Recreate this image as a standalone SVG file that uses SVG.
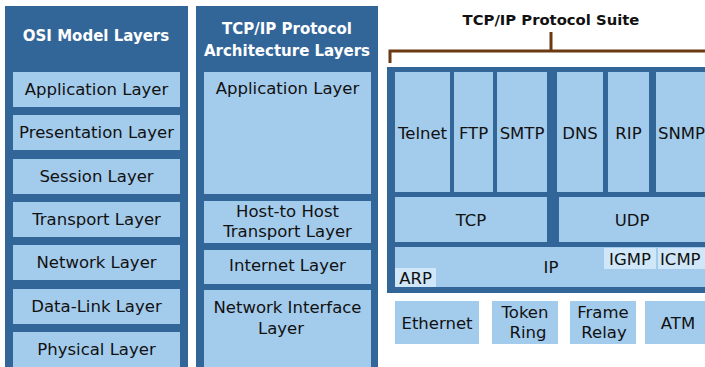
<svg xmlns="http://www.w3.org/2000/svg" width="705" height="367" viewBox="0 0 705 367">
<style>
.panel{fill:#326699}
.box{fill:#a3cbec}
.hl{fill:#cfe7f8}
.t{font-family:"DejaVu Sans","Liberation Sans",sans-serif;font-size:16.5px;fill:#111;text-anchor:middle}
.s{text-anchor:start}
.h{font-family:"DejaVu Sans","Liberation Sans",sans-serif;font-size:15px;font-weight:bold;fill:#fff;text-anchor:middle}
.br{fill:none;stroke:#6b3a12;stroke-width:3}
</style>
<rect width="705" height="367" fill="#fff"/>
<g id="osi">
<rect class="panel" x="5" y="6" width="183" height="361"/>
<text class="h" x="96" y="41">OSI Model Layers</text>
<g id="osi-app"><rect class="box" x="13" y="72" width="167" height="35"/><text class="t" x="96.5" y="95">Application Layer</text></g>
<g id="osi-pres"><rect class="box" x="13" y="115" width="167" height="35"/><text class="t" x="96.5" y="138">Presentation Layer</text></g>
<g id="osi-sess"><rect class="box" x="13" y="159" width="167" height="35"/><text class="t" x="96.5" y="182">Session Layer</text></g>
<g id="osi-trans"><rect class="box" x="13" y="202" width="167" height="35"/><text class="t" x="96.5" y="225">Transport Layer</text></g>
<g id="osi-net"><rect class="box" x="13" y="245" width="167" height="35"/><text class="t" x="96.5" y="268">Network Layer</text></g>
<g id="osi-dl"><rect class="box" x="13" y="289" width="167" height="35"/><text class="t" x="96.5" y="312">Data-Link Layer</text></g>
<g id="osi-phys"><rect class="box" x="13" y="332" width="167" height="35"/><text class="t" x="96.5" y="355">Physical Layer</text></g>
</g>
<g id="tcpip-arch">
<rect class="panel" x="196" y="6" width="182" height="361"/>
<text class="h" x="287" y="34">TCP/IP Protocol</text>
<text class="h" x="287" y="56">Architecture Layers</text>
<g id="arch-app"><rect class="box" x="204" y="72" width="167" height="122"/><text class="t" x="287.5" y="94">Application Layer</text></g>
<g id="arch-host"><rect class="box" x="204" y="201" width="167" height="42"/><text class="t" x="287.5" y="217">Host-to Host</text><text class="t" x="287.5" y="237">Transport Layer</text></g>
<g id="arch-inet"><rect class="box" x="204" y="250" width="167" height="34"/><text class="t" x="287.5" y="271">Internet Layer</text></g>
<g id="arch-ni"><rect class="box" x="204" y="290" width="167" height="77"/><text class="t" x="287.5" y="313">Network Interface</text><text class="t" x="281" y="334">Layer</text></g>
</g>
<g id="suite">
<text class="h" x="551" y="25" style="fill:#111;font-size:14.8px">TCP/IP Protocol Suite</text>
<path class="br" d="M390,63 V51 H705 M551,51 V32"/>
<rect class="panel" x="387" y="67" width="318" height="226"/>
<g id="telnet"><rect class="box" x="395" y="72" width="55" height="120"/><text class="t" x="422.5" y="139">Telnet</text></g>
<g id="ftp"><rect class="box" x="454" y="72" width="39" height="120"/><text class="t" x="473.5" y="139">FTP</text></g>
<g id="smtp"><rect class="box" x="497" y="72" width="50" height="120"/><text class="t" x="522" y="139">SMTP</text></g>
<g id="dns"><rect class="box" x="557" y="72" width="46" height="120"/><text class="t" x="580" y="139">DNS</text></g>
<g id="rip"><rect class="box" x="608" y="72" width="41" height="120"/><text class="t" x="628.5" y="139">RIP</text></g>
<g id="snmp"><rect class="box" x="656" y="72" width="49" height="120"/><text class="t s" x="658" y="139">SNMP</text></g>
<g id="tcp"><rect class="box" x="395" y="197" width="152" height="45"/><text class="t" x="471" y="226">TCP</text></g>
<g id="udp"><rect class="box" x="559" y="197" width="146" height="45"/><text class="t" x="632" y="226">UDP</text></g>
<g id="ip"><rect class="box" x="395" y="247" width="310" height="40"/><text class="t" x="551" y="273">IP</text></g>
<g id="arp"><rect class="hl" x="395" y="268" width="41" height="19"/><text class="t" x="415.5" y="284">ARP</text></g>
<g id="igmp"><rect class="hl" x="604" y="248" width="52" height="21"/><text class="t" x="630" y="265">IGMP</text></g>
<g id="icmp"><rect class="hl" x="658" y="248" width="47" height="21"/><text class="t s" x="660" y="265">ICMP</text></g>
<g id="ethernet"><rect class="box" x="395" y="301" width="84" height="43"/><text class="t" x="437" y="329">Ethernet</text></g>
<g id="token"><rect class="box" x="492" y="301" width="66" height="43"/><text class="t" x="525" y="318">Token</text><text class="t" x="528" y="338">Ring</text></g>
<g id="frame"><rect class="box" x="570" y="301" width="66" height="43"/><text class="t" x="603" y="318">Frame</text><text class="t" x="604" y="338">Relay</text></g>
<g id="atm"><rect class="box" x="645" y="301" width="60" height="43"/><text class="t" x="678" y="329">ATM</text></g>
</g>
<g id="connectors"/>
</svg>
